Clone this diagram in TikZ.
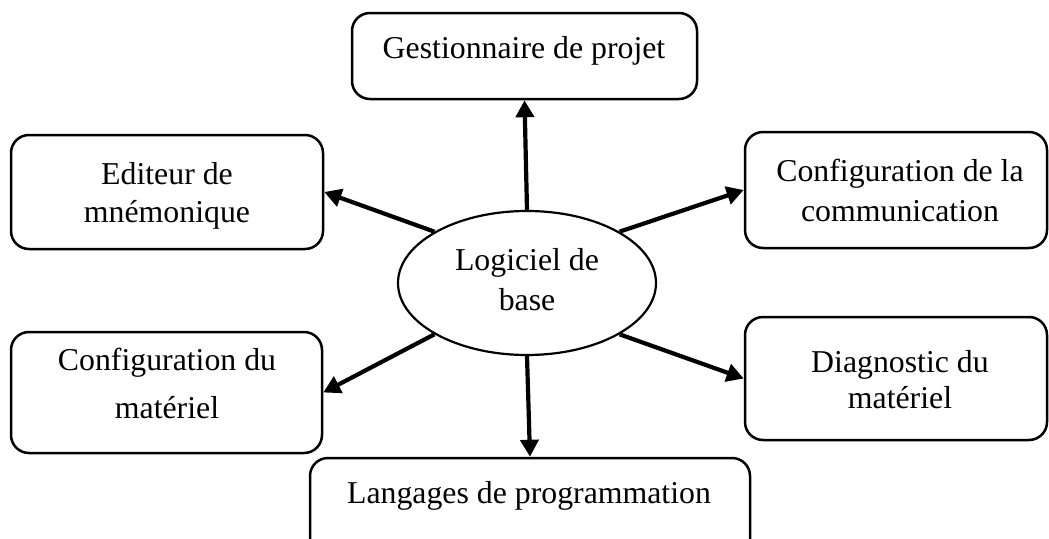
\documentclass[tikz,border=0pt]{standalone}
\usepackage{fontspec}
\setmainfont{Liberation Serif}
\usetikzlibrary{arrows.meta,shapes.geometric,fit}
\begin{document}
\begin{tikzpicture}[x=1pt,y=-1pt,
  box/.style={draw, rounded corners=18pt, line width=2.5pt, inner sep=0pt},
  hub/.style={draw, ellipse, line width=2.2pt, inner sep=0pt,
              minimum width=258pt, minimum height=144pt},
  lbl/.style={anchor=base, inner sep=0pt, font=\fontsize{31.8}{38}\selectfont},
  arr/.style={line width=4.2pt, -{Triangle[length=17pt,width=18pt]}}]
  \useasboundingbox (0,0) rectangle (1049,538);
  \clip (0,0) rectangle (1049,538);

  % central ellipse
  \node[hub] (hub) at (527,283) {};
  \node[lbl] (hub1) at (527,270) {Logiciel de};
  \node[lbl] (hub2) at (527,310) {base};

  % surrounding boxes
  \node[box, fit={(352,13)(697,99)}] (tb) {};
  \node[lbl] (tb1) at (524,58) {Gestionnaire de projet};

  \node[box, fit={(11,135)(323,249)}] (lt) {};
  \node[lbl] (lt1) at (167,184) {Editeur de};
  \node[lbl] (lt2) at (167,222) {mnémonique};

  \node[box, fit={(745,132)(1047,248)}] (rt) {};
  \node[lbl] (rt1) at (900,181) {Configuration de la};
  \node[lbl] (rt2) at (900,221) {communication};

  \node[box, fit={(11,332)(322,453)}] (lb) {};
  \node[lbl] (lb1) at (167,370) {Configuration du};
  \node[lbl] (lb2) at (167,418) {matériel};

  \node[box, fit={(745,317)(1047,440)}] (rb) {};
  \node[lbl] (rb1) at (900,372) {Diagnostic du};
  \node[lbl] (rb2) at (900,408) {matériel};

  \node[box, fit={(310,458)(750,570)}] (bb) {};
  \node[lbl] (bb1) at (529,503) {Langages de programmation};

  % connectors
  \draw[arr] (hub.90)  -- (tb.south);
  \draw[arr] (hub.151) -- (lt.east);
  \draw[arr] (hub.29)  -- (rt.west);
  \draw[arr] (hub.209) -- (lb.east);
  \draw[arr] (hub.331) -- (rb.west);
  \draw[arr] (hub.270) -- (bb.north);
\end{tikzpicture}
\end{document}
